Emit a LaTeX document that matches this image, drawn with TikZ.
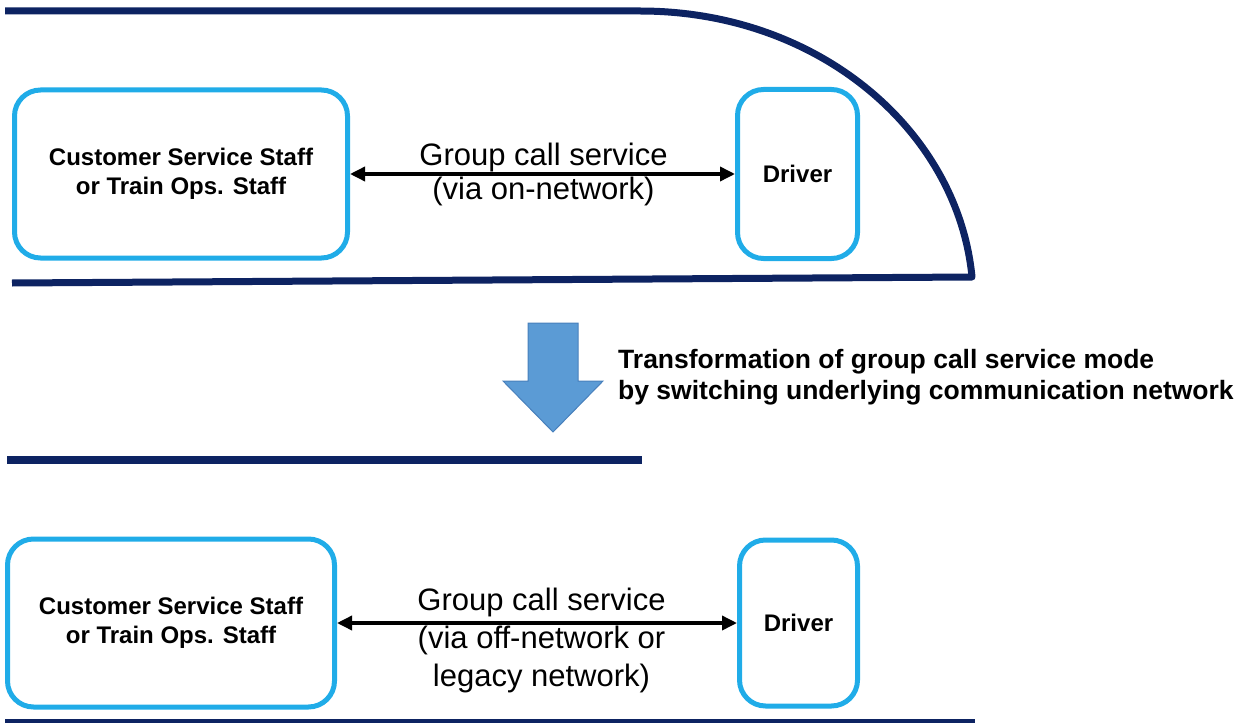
\documentclass[tikz,border=0pt]{standalone}
\usepackage{fontspec}
\setmainfont{Liberation Sans}
\usetikzlibrary{arrows.meta}
\definecolor{navy}{RGB}{13,35,98}
\definecolor{boxblue}{RGB}{32,172,232}
\definecolor{arrowfill}{RGB}{91,155,213}
\definecolor{arrowedge}{RGB}{72,128,188}
\begin{document}
\begin{tikzpicture}[x=1pt,y=-1pt,
  staffbox/.style={draw=boxblue, line width=5pt, rounded corners=26pt, inner sep=0pt,
    align=center, font=\fontsize{24}{29}\selectfont\bfseries},
  train/.style={draw=navy, line width=7pt},
  link/.style={line width=3.5pt, {Triangle[length=15pt,width=14pt]}-{Triangle[length=15pt,width=14pt]}},
  calltext/.style={anchor=base, inner sep=0pt, font=\fontsize{31}{36}\selectfont},
  notetext/.style={anchor=base west, inner sep=0pt, font=\fontsize{26.5}{31}\selectfont\bfseries}]
\useasboundingbox (0,0) rectangle (1246,722);

% top train outline
\draw[train, line join=round] (5,11) -- (640,11) .. controls (820,11) and (958,132) .. (972,277) -- (12,283);

% top section
\node[staffbox, minimum width=333pt, minimum height=168pt] (cs1) at (181,174)
  {Customer Service Staff\\or Train Ops. Staff};
\node[staffbox, minimum width=120pt, minimum height=169pt] (dr1) at (797.5,174) {Driver};
\draw[link] (cs1.east) -- (dr1.west);
\node[calltext] (g1a) at (543.5,165) {Group call service};
\node[calltext] (g1b) at (543.5,200) {(via on-network)};

% transformation arrow
\draw[fill=arrowfill, draw=arrowedge, line width=1pt]
  (528,323) -- (578,323) -- (578,381) -- (603,381) -- (553,432) -- (503,381) -- (528,381) -- cycle;
\node[notetext] (t1) at (618,368) {Transformation of group call service mode};
\node[notetext] (t2) at (618,399) {by switching underlying communication network};

% bottom section
\draw[navy, line width=8pt] (7,460) -- (642,460);
\node[staffbox, minimum width=327pt, minimum height=168pt] (cs2) at (171,623)
  {Customer Service Staff\\or Train Ops. Staff};
\node[staffbox, minimum width=118pt, minimum height=166pt] (dr2) at (798.5,623) {Driver};
\draw[link] (cs2.east) -- (dr2.west);
\node[calltext] (g2a) at (541.5,610) {Group call service};
\node[calltext] (g2b) at (541.5,648) {(via off-network or};
\node[calltext] (g2c) at (541.5,686) {legacy network)};
\draw[navy, line width=6pt] (5,721.5) -- (975,721.5);
\end{tikzpicture}
\end{document}
